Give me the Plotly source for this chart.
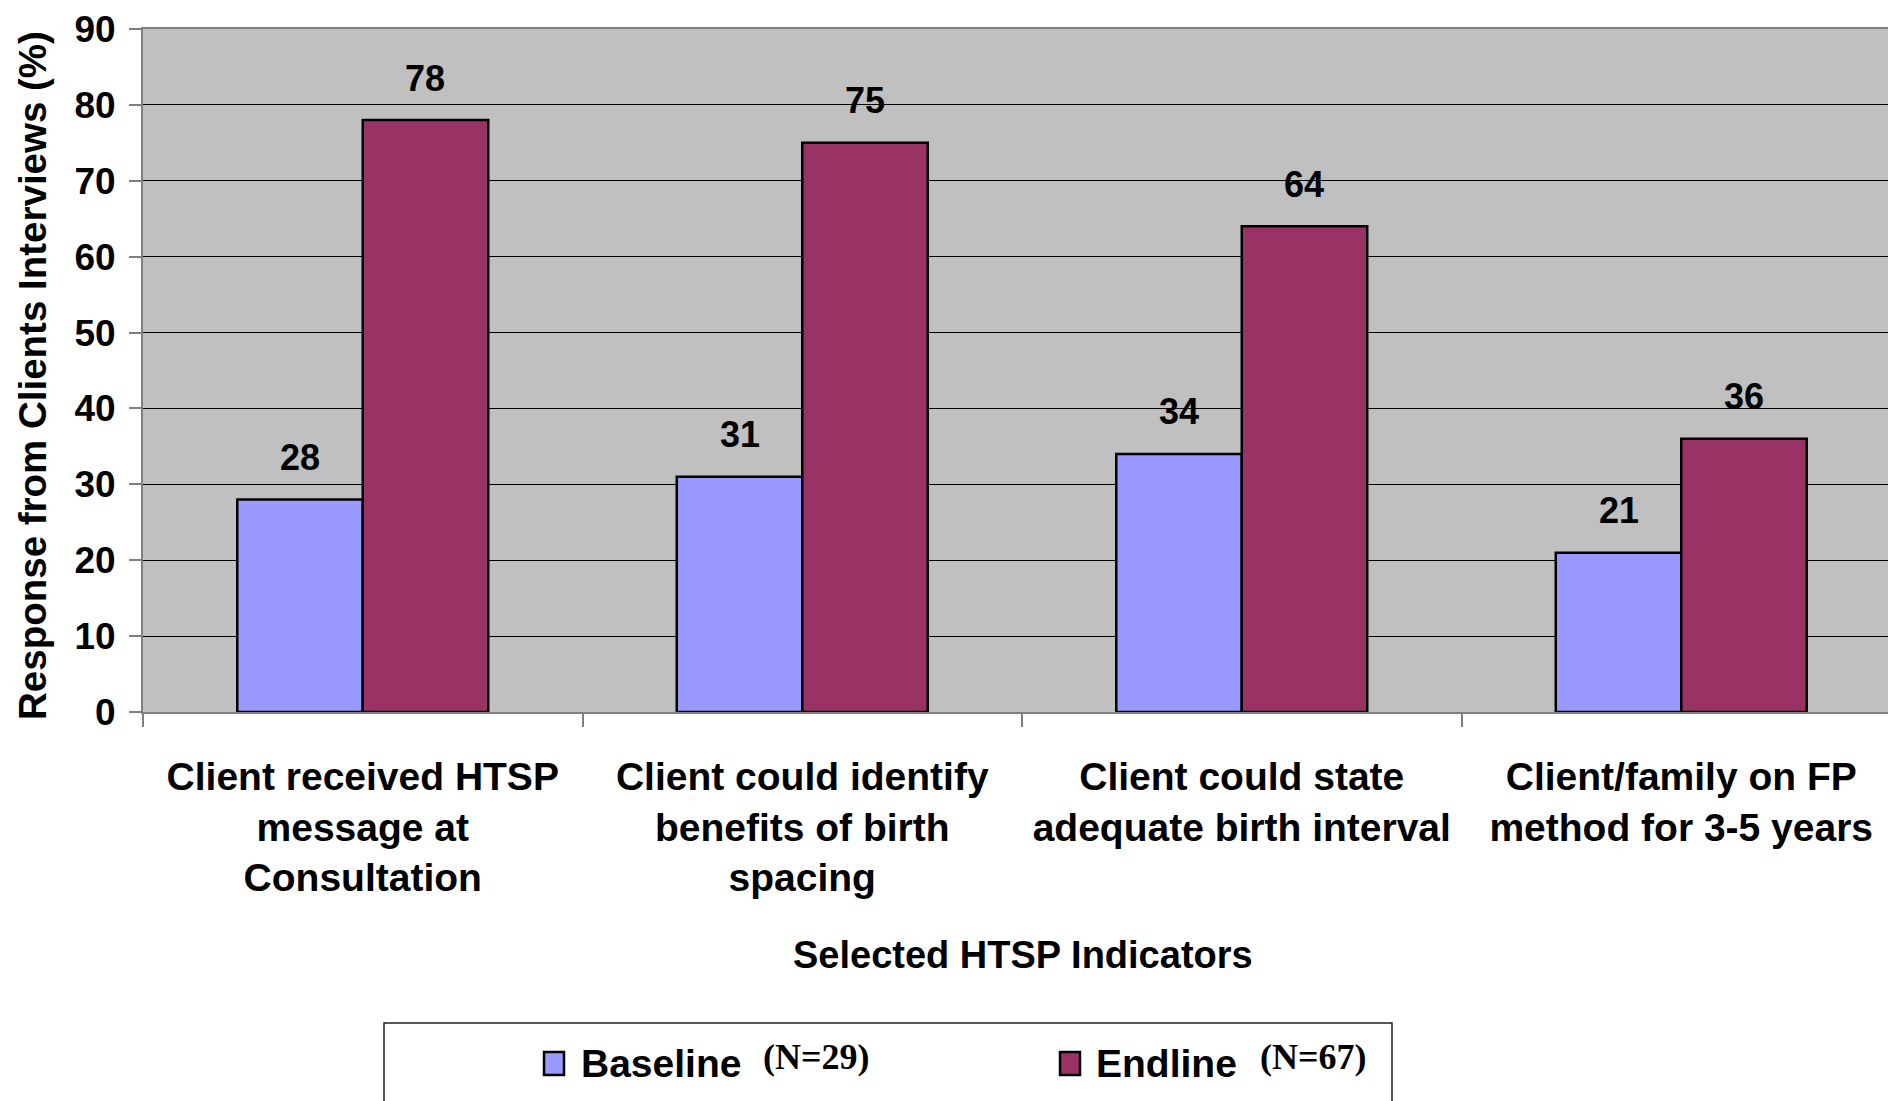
import plotly.graph_objects as go

categories = [
    "Client received HTSP<br>message at<br>Consultation",
    "Client could identify<br>benefits of birth<br>spacing",
    "Client could state<br>adequate birth interval",
    "Client/family on FP<br>method for 3-5 years",
]
series_names = ["Baseline", "Endline"]
series_n = ["(N=29)", "(N=67)"]
baseline = [28, 31, 34, 21]
endline = [78, 75, 64, 36]
y_ticks = [0, 10, 20, 30, 40, 50, 60, 70, 80, 90]
y_title = "Response from Clients Interviews (%)"
x_title = "Selected HTSP Indicators"

colors = ["#9999FF", "#993366"]
W, H = 1888, 1101
L, T, B = 143, 29, 389
PW, PH = W - L, H - T - B
BARGAP = 0.429

def px(xp):
    return (xp - L) / PW

def py(yp):
    return (H - B - yp) / PH

SANS = "Liberation Sans, Arial, sans-serif"
SERIF = "Liberation Serif, Times New Roman, serif"

fig = go.Figure()
for name, vals, col in zip(series_names, [baseline, endline], colors):
    fig.add_trace(go.Bar(
        x=categories, y=vals, name=name,
        marker=dict(color=col, line=dict(color="black", width=2.5)),
        showlegend=False,
    ))

off = (1 - BARGAP) / 4
for sign, vals in zip([-1, 1], [baseline, endline]):
    for i, v in enumerate(vals):
        fig.add_annotation(
            x=i + sign * off, y=v, xref="x", yref="y", text=str(v),
            showarrow=False, yanchor="middle", yshift=42,
            font=dict(family=SANS, size=36, color="black", weight="bold"),
        )

# axis titles
fig.add_annotation(
    x=px(33), y=0.492, xref="paper", yref="paper", text=y_title,
    textangle=-90, showarrow=False, xanchor="center", yanchor="middle",
    font=dict(family=SANS, size=38.5, color="black", weight="bold"),
)
fig.add_annotation(
    x=px(1023), y=py(955), xref="paper", yref="paper", text=x_title,
    showarrow=False, xanchor="center", yanchor="middle",
    font=dict(family=SANS, size=38, color="black", weight="bold"),
)

# legend box (manual)
fig.add_shape(type="rect", xref="paper", yref="paper",
              x0=px(384), x1=px(1392), y0=py(1115), y1=py(1023),
              line=dict(color="#202020", width=1.5), fillcolor="white", layer="above")
sw_x = [544, 1060]
txt_x = [579, 1094]
n_x = [761, 1258]
for k in range(2):
    fig.add_shape(type="rect", xref="paper", yref="paper",
                  x0=px(sw_x[k]), x1=px(sw_x[k] + 20), y0=py(1075), y1=py(1052),
                  line=dict(color="black", width=2.5), fillcolor=colors[k], layer="above")
    fig.add_annotation(x=px(txt_x[k]), y=py(1063), xref="paper", yref="paper",
                       text=series_names[k], showarrow=False, xanchor="left", yanchor="middle",
                       font=dict(family=SANS, size=39, color="black", weight="bold"))
    fig.add_annotation(x=px(n_x[k]), y=py(1057), xref="paper", yref="paper",
                       text=series_n[k], showarrow=False, xanchor="left", yanchor="middle",
                       font=dict(family=SERIF, size=36, color="black", weight="bold"))

fig.update_layout(
    width=W, height=H,
    margin=dict(l=L, r=0, t=T, b=B, autoexpand=False),
    paper_bgcolor="white", plot_bgcolor="#C0C0C0",
    barmode="group", bargap=BARGAP, bargroupgap=0,
    showlegend=False,
)
fig.update_xaxes(
    type="category",
    range=[-0.5, -0.5 + PW / 439.5],
    tickson="boundaries", ticks="outside", ticklen=13, tickcolor="#808080", tickwidth=1.5,
    showline=True, linecolor="#808080", linewidth=2, mirror=True,
    showgrid=False, zeroline=False,
    tickfont=dict(family=SANS, size=39, color="black", weight="bold"),
    ticklabelstandoff=29,
)
fig.update_yaxes(
    range=[0, 90], tickmode="array", tickvals=y_ticks,
    ticks="outside", ticklen=12, tickcolor="#808080", tickwidth=1.5,
    showline=True, linecolor="#808080", linewidth=2,
    showgrid=True, gridcolor="black", gridwidth=1, zeroline=False,
    tickfont=dict(family=SANS, size=37, color="black", weight="bold"),
    ticklabelstandoff=6,
)

fig.write_html("out.html")
